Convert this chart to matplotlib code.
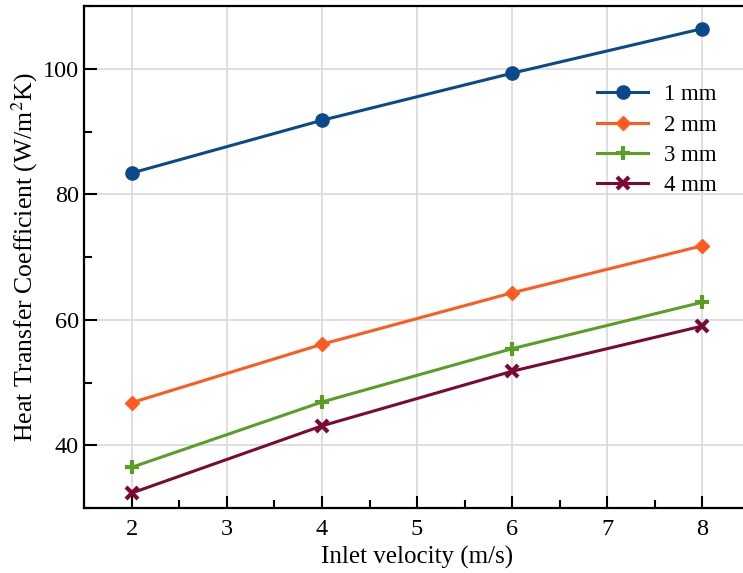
import matplotlib
matplotlib.use("Agg")
import matplotlib.pyplot as plt
from matplotlib.ticker import MultipleLocator

# data
velocity = [2, 4, 6, 8]
h_1mm = [83.4, 91.8, 99.3, 106.4]
h_2mm = [46.8, 56.1, 64.3, 71.8]
h_3mm = [36.5, 46.9, 55.4, 62.8]
h_4mm = [32.4, 43.1, 51.8, 59.0]
series_labels = ["1 mm", "2 mm", "3 mm", "4 mm"]

plt.rcParams["font.family"] = ["Liberation Serif", "DejaVu Serif"]
plt.rcParams["mathtext.fontset"] = "stix"

colors = ["#0a4a8a", "#ff5a1f", "#5a9e25", "#7a0a35"]
markers = ["o", "D", "+", "x"]
msizes = [9.5, 7, 10, 9]

fig = plt.figure(figsize=(7.43, 5.73), dpi=100)
ax = fig.add_axes([0.1135, 0.1134, 0.8957, 0.876])

for vals, lab, col, mk, ms in zip([h_1mm, h_2mm, h_3mm, h_4mm], series_labels,
                                  colors, markers, msizes):
    ax.plot(velocity, vals, color=col, marker=mk, markersize=ms, linewidth=2.2,
            markeredgewidth=3 if mk in "+x" else 1, label=lab, zorder=3)

ax.set_xlim(1.5, 8.5)
ax.set_ylim(30, 110)
ax.xaxis.set_major_locator(MultipleLocator(1))
ax.xaxis.set_minor_locator(MultipleLocator(0.5))
ax.yaxis.set_major_locator(MultipleLocator(20))
ax.yaxis.set_minor_locator(MultipleLocator(10))

ax.grid(True, which="major", color="#d9d9d9", linewidth=1.2, zorder=0)

ax.tick_params(which="major", direction="in", length=9, width=1.5, labelsize=17.5,
               top=False, right=False)
ax.tick_params(axis="x", which="major", pad=8)
ax.tick_params(axis="y", which="major", pad=4)
ax.tick_params(which="minor", direction="in", length=5.5, width=1.5,
               top=False, right=False)
for sp in ax.spines.values():
    sp.set_linewidth(1.6)

ax.set_xlabel("Inlet velocity (m/s)", fontsize=18, labelpad=4)
ax.set_ylabel("Heat Transfer Coefficient (W/m$^2$K)", fontsize=18.5, labelpad=2)

ax.legend(loc="upper left", bbox_to_anchor=(0.74, 0.885), frameon=False,
          fontsize=16.5, handlelength=2.2, handletextpad=0.7, labelspacing=0.4)

fig.savefig("out.png", dpi=100)
